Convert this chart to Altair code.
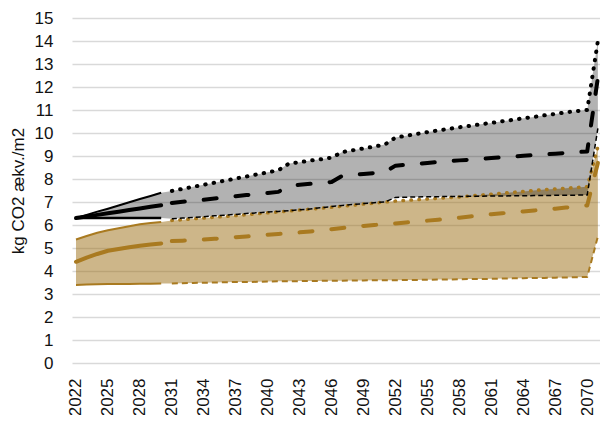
import altair as alt
import pandas as pd

# ---------------- data ----------------
years_a = [2022, 2023, 2024, 2025, 2026, 2027, 2028, 2029, 2030]
years_b = [2031, 2032, 2033, 2034, 2035, 2036, 2037, 2038, 2039, 2040,
           2041, 2042, 2043, 2044, 2045, 2046, 2047, 2048, 2049, 2050,
           2051, 2052, 2053, 2054, 2055, 2056, 2057, 2058, 2059, 2060,
           2061, 2062, 2063, 2064, 2065, 2066, 2067, 2068, 2069, 2070, 2071]

# grey scenario (black lines)
grey_low_a = [6.3, 6.3, 6.3, 6.3, 6.3, 6.3, 6.3, 6.3, 6.3]
grey_med_a = [6.3, 6.37, 6.44, 6.51, 6.58, 6.65, 6.72, 6.79, 6.86]
grey_up_a = [6.3, 6.44, 6.58, 6.71, 6.85, 6.99, 7.13, 7.26, 7.4]

grey_low_b = [6.27, 6.3, 6.33, 6.36, 6.4, 6.43, 6.46, 6.5, 6.53, 6.56,
              6.59, 6.62, 6.66, 6.7, 6.75, 6.8, 6.85, 6.89, 6.93, 6.97,
              7.0, 7.2, 7.21, 7.22, 7.23, 7.23, 7.24, 7.24, 7.25, 7.25,
              7.26, 7.26, 7.27, 7.27, 7.28, 7.28, 7.29, 7.29, 7.3, 7.3, 10.2]
grey_med_b = [6.96, 7.01, 7.06, 7.1, 7.15, 7.2, 7.25, 7.3, 7.34, 7.39,
              7.44, 7.7, 7.75, 7.79, 7.83, 7.87, 8.14, 8.18, 8.22, 8.26,
              8.3, 8.58, 8.62, 8.66, 8.7, 8.74, 8.77, 8.81, 8.84, 8.88,
              8.91, 8.94, 8.97, 9.01, 9.04, 9.07, 9.1, 9.13, 9.17, 9.2, 12.4]
grey_up_b = [7.48, 7.57, 7.66, 7.75, 7.84, 7.93, 8.02, 8.11, 8.2, 8.29,
             8.38, 8.67, 8.73, 8.8, 8.86, 8.93, 9.17, 9.25, 9.33, 9.41,
             9.5, 9.8, 9.88, 9.96, 10.04, 10.11, 10.18, 10.25, 10.31, 10.38,
             10.44, 10.51, 10.57, 10.64, 10.7, 10.77, 10.83, 10.9, 10.95, 11.0, 14.0]

# tan scenario (brown lines)
tan_low_a = [3.39, 3.41, 3.42, 3.43, 3.44, 3.44, 3.45, 3.45, 3.46]
tan_med_a = [4.4, 4.58, 4.74, 4.88, 4.96, 5.03, 5.1, 5.15, 5.2]
tan_up_a = [5.37, 5.52, 5.66, 5.77, 5.86, 5.95, 6.03, 6.09, 6.13]

tan_low_b = [3.46, 3.47, 3.48, 3.49, 3.5, 3.51, 3.52, 3.52, 3.53, 3.54,
             3.55, 3.55, 3.56, 3.57, 3.57, 3.58, 3.58, 3.59, 3.59, 3.6,
             3.6, 3.6, 3.61, 3.61, 3.62, 3.63, 3.63, 3.64, 3.65, 3.65,
             3.66, 3.67, 3.68, 3.69, 3.7, 3.7, 3.71, 3.72, 3.73, 3.74, 5.5]
tan_med_b = [5.3, 5.32, 5.34, 5.37, 5.4, 5.43, 5.47, 5.5, 5.54, 5.58,
             5.61, 5.64, 5.68, 5.72, 5.77, 5.82, 5.87, 5.92, 5.96, 6.0,
             6.03, 6.07, 6.11, 6.15, 6.19, 6.23, 6.27, 6.32, 6.37, 6.42,
             6.47, 6.51, 6.55, 6.59, 6.63, 6.67, 6.71, 6.76, 6.8, 6.85, 8.7]
tan_up_b = [6.2, 6.23, 6.27, 6.3, 6.34, 6.37, 6.41, 6.45, 6.49, 6.53,
            6.57, 6.61, 6.65, 6.69, 6.73, 6.77, 6.82, 6.86, 6.91, 6.95,
            7.0, 7.04, 7.07, 7.1, 7.13, 7.16, 7.19, 7.22, 7.26, 7.3,
            7.34, 7.38, 7.42, 7.46, 7.5, 7.54, 7.57, 7.6, 7.63, 7.66, 9.4]

x_tick_years = [2022, 2025, 2028, 2031, 2034, 2037, 2040, 2043, 2046,
                2049, 2052, 2055, 2058, 2061, 2064, 2067, 2070]
y_ticks = [0, 1, 2, 3, 4, 5, 6, 7, 8, 9, 10, 11, 12, 13, 14, 15]

y_title = "kg CO2 ækv./m2"

# ---------------- styling ----------------
BLACK = "#000000"
TAN_LINE = "#a97a20"
TAN_FILL = "#9c6d14"
FONT = "Liberation Sans"

all_years = years_a + years_b
area_grey = pd.DataFrame({"year": all_years,
                          "low": grey_low_a + grey_low_b,
                          "high": grey_up_a + grey_up_b})
area_tan = pd.DataFrame({"year": all_years,
                         "low": tan_low_a + tan_low_b,
                         "high": tan_up_a + tan_up_b})

x_scale = alt.Scale(domain=[2021.625, 2071.2], nice=False, zero=False)
x_axis = alt.Axis(values=x_tick_years, format="d", labelAngle=270,
                  title=None, grid=False, ticks=False, domain=False,
                  labelOverlap=False, labelBound=False, labelFlush=False,
                  labelPadding=15, labelFont=FONT, labelFontSize=17,
                  labelColor="#111111")
y_scale = alt.Scale(domain=[0, 15], nice=False, zero=True)
y_axis = alt.Axis(values=y_ticks, format="d", title=y_title,
                  grid=True, gridColor="#d9d9d9", gridWidth=1.5,
                  ticks=False, domain=False, labelPadding=19,
                  labelOverlap=False, labelBound=False, labelFlush=False,
                  labelFont=FONT, labelFontSize=17, labelColor="#111111",
                  titleFont=FONT, titleFontSize=17, titleFontWeight="normal",
                  titleColor="#111111", titlePadding=7)


def X():
    return alt.X("year:Q", scale=x_scale, axis=x_axis)


def Y(field):
    return alt.Y(field, scale=y_scale, axis=y_axis)


tan_area = alt.Chart(area_tan).mark_area(color=TAN_FILL, opacity=0.5).encode(
    x=X(), y=Y("low:Q"), y2="high:Q"
)
grey_area = alt.Chart(area_grey).mark_area(color=BLACK, opacity=0.3).encode(
    x=X(), y=Y("low:Q"), y2="high:Q"
)


def line(years, vals, color, width, dash=None, cap="butt"):
    df = pd.DataFrame({"year": years, "v": vals})
    kw = dict(color=color, strokeWidth=width, strokeCap=cap, strokeJoin="round")
    if dash is not None:
        kw["strokeDash"] = dash
    return alt.Chart(df).mark_line(**kw).encode(x=X(), y=Y("v:Q"))


layers = [
    tan_area,
    grey_area,
    # tan, first period (solid)
    line(years_a, tan_low_a, TAN_LINE, 2),
    line(years_a, tan_up_a, TAN_LINE, 2),
    line(years_a, tan_med_a, TAN_LINE, 4, cap="round"),
    # tan, second period
    line(years_b, tan_low_b, TAN_LINE, 2, dash=[6, 4]),
    line(years_b, tan_up_b, TAN_LINE, 3.5, dash=[0.5, 7.5], cap="round"),
    line(years_b, tan_med_b, TAN_LINE, 4, dash=[13, 19], cap="round"),
    # black, first period (solid)
    line(years_a, grey_low_a, BLACK, 2.5),
    line(years_a, grey_up_a, BLACK, 2),
    line(years_a, grey_med_a, BLACK, 4, cap="round"),
    # black, second period
    line(years_b, grey_low_b, BLACK, 1.5, dash=[5, 3]),
    line(years_b, grey_up_b, BLACK, 4, dash=[0.5, 8], cap="round"),
    line(years_b, grey_med_b, BLACK, 4, dash=[13, 19], cap="round"),
]

chart = alt.layer(*layers).properties(
    width=528, height=345,
    autosize=alt.AutoSizeParams(type="none"),
    padding={"left": 64, "top": 10, "right": 0, "bottom": 52},
).configure_view(stroke=None)

chart.save("out.html", embed_options={"renderer": "svg", "actions": False})
